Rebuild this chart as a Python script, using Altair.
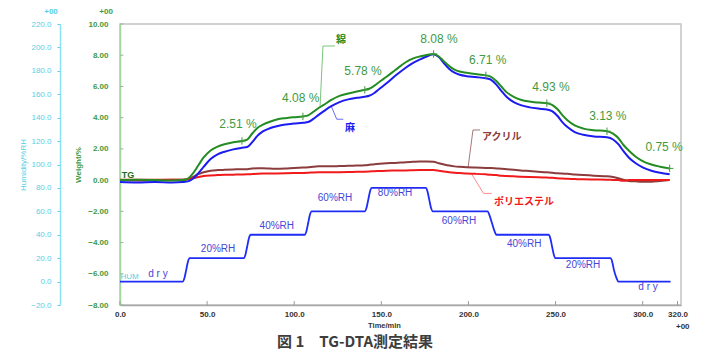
import altair as alt
import pandas as pd

# ---------------- data ----------------
time_min = [0, 10, 20, 30, 36, 39, 42, 45, 48, 52, 56, 60, 65, 70,
            73, 76, 79, 82, 86, 90, 95, 100, 105,
            108, 111, 114, 117, 121, 126, 131, 136, 140.5,
            143, 146, 149, 153, 158, 164, 168, 172, 176, 180,
            183, 186, 189, 192, 195, 199, 204, 210,
            213, 216, 219, 222, 226, 230, 235, 240, 245,
            248, 251, 254, 257, 261, 266, 272, 279.5,
            283, 286, 289, 292, 296, 300, 305, 310, 315.5]

cotton = [0.0, 0.02, 0.0, -0.02, 0.0, 0.1, 0.45, 0.95, 1.45, 1.9, 2.15, 2.3, 2.42, 2.51,
          2.6, 3.0, 3.35, 3.55, 3.74, 3.88, 3.97, 4.03, 4.08,
          4.15, 4.38, 4.62, 4.82, 5.12, 5.4, 5.55, 5.67, 5.78,
          5.85, 6.05, 6.3, 6.62, 7.05, 7.55, 7.78, 7.92, 8.02, 8.08,
          7.92, 7.6, 7.3, 7.08, 6.96, 6.88, 6.8, 6.71,
          6.62, 6.35, 5.98, 5.62, 5.33, 5.15, 5.03, 4.97, 4.93,
          4.82, 4.55, 4.15, 3.82, 3.5, 3.3, 3.2, 3.13,
          2.98, 2.7, 2.25, 1.9, 1.5, 1.22, 1.0, 0.86, 0.75]

hemp = [-0.12, -0.15, -0.12, -0.15, -0.12, -0.08, 0.1, 0.45, 0.85, 1.35, 1.65, 1.82, 1.97, 2.07,
        2.12, 2.45, 2.85, 3.12, 3.32, 3.45, 3.56, 3.62, 3.67,
        3.72, 3.92, 4.18, 4.42, 4.72, 5.0, 5.17, 5.27, 5.34,
        5.4, 5.58, 5.85, 6.2, 6.68, 7.2, 7.5, 7.72, 7.92, 8.06,
        7.88, 7.48, 7.12, 6.88, 6.75, 6.66, 6.6, 6.52,
        6.42, 6.12, 5.7, 5.32, 5.0, 4.8, 4.66, 4.58, 4.53,
        4.42, 4.12, 3.7, 3.38, 3.08, 2.9, 2.8, 2.74,
        2.6, 2.3, 1.85, 1.45, 1.08, 0.82, 0.6, 0.47, 0.38]

acrylic = [0.0, -0.02, 0.0, 0.03, 0.02, 0.05, 0.2, 0.38, 0.5, 0.6, 0.64, 0.66, 0.68, 0.7,
           0.7, 0.74, 0.76, 0.76, 0.74, 0.72, 0.74, 0.78, 0.8,
           0.82, 0.86, 0.88, 0.88, 0.88, 0.9, 0.92, 0.93, 0.95,
           0.98, 1.02, 1.05, 1.08, 1.1, 1.15, 1.17, 1.19, 1.2, 1.18,
           1.08, 1.0, 0.93, 0.88, 0.85, 0.82, 0.8, 0.78,
           0.77, 0.75, 0.73, 0.7, 0.66, 0.62, 0.58, 0.54, 0.5,
           0.47, 0.44, 0.42, 0.4, 0.36, 0.32, 0.28, 0.25,
           0.2, 0.12, 0.02, -0.05, -0.08, -0.1, -0.1, -0.05, 0.0]

polyester = [0.02, 0.03, 0.02, 0.03, 0.03, 0.05, 0.12, 0.2, 0.26, 0.3, 0.32, 0.34, 0.35, 0.36,
             0.37, 0.39, 0.41, 0.42, 0.42, 0.43, 0.44, 0.45, 0.46,
             0.47, 0.49, 0.5, 0.5, 0.5, 0.51, 0.52, 0.53, 0.54,
             0.55, 0.57, 0.58, 0.6, 0.61, 0.62, 0.63, 0.64, 0.65, 0.64,
             0.6, 0.55, 0.5, 0.47, 0.45, 0.42, 0.4, 0.37,
             0.35, 0.32, 0.28, 0.26, 0.24, 0.22, 0.2, 0.18, 0.16,
             0.15, 0.12, 0.1, 0.09, 0.07, 0.05, 0.04, 0.03,
             0.01, 0.0, -0.04, 0.0, 0.01, 0.0, 0.0, 0.0, 0.0]

hum_t = [0, 36, 37, 38, 39, 40, 71, 72, 73, 74, 75, 106, 107, 108, 109, 110,
         140.5, 141.5, 142.5, 143.5, 144.5, 175.5, 176.5, 177.5, 178.5, 179.5,
         211, 212, 213.5, 215, 216, 246, 247, 248, 249, 250,
         281.5, 282.5, 283.5, 285, 286, 316]
hum_rh = [0, 0, 3, 10, 17, 20, 20, 23, 30, 37, 40, 40, 43, 50, 57, 60,
          60, 63, 70, 77, 80, 80, 77, 70, 63, 60,
          60, 57, 50, 43, 40, 40, 37, 30, 23, 20,
          20, 17, 10, 3, 0, 0]

# step-end markers of cotton and their labels
marker_t = [70, 105, 140.5, 180, 210, 245, 279.5, 315.5]
marker_w = [2.51, 4.08, 5.78, 8.08, 6.71, 4.93, 3.13, 0.75]
label_t = [67.7, 103.7, 139.5, 183.1, 211.1, 247.4, 280.0, 312.3]
label_w = [3.59, 5.26, 6.99, 9.04, 7.69, 5.98, 4.11, 2.12]

# humidity step labels
rh_text = ["d r y", "20%RH", "40%RH", "60%RH", "80%RH", "60%RH", "40%RH", "20%RH", "d r y"]
rh_text_t = [21.8, 56.3, 90.0, 123.4, 157.9, 194.6, 232.0, 265.8, 303.1]
rh_text_h = [6.6, 27.9, 47.6, 71.5, 75.7, 52.1, 32.2, 14.3, -4.3]

# series names and leader lines (time, weight)
series_names = ["綿", "麻", "アクリル", "ポリエステル"]
series_colors = ["#238c23", "#1c1cf0", "#8b3c3c", "#f01a1a"]
leader_colors = ["#7cc47c", "#6a6aff", "#a57a7a", "#ff8c8c"]
leader_t = [[114.8, 116.5, 123.4], [121.4, 124.4, 128.2], [199.8, 202.6, 206.7], [201.9, 208.6, 213.4]]
leader_w = [[4.65, 8.59, 8.59], [4.7, 3.9, 3.9], [0.82, 3.21, 3.21], [0.38, -0.85, -0.85]]
name_t = [124.0, 129.2, 207.8, 214.7]
name_w = [8.97, 3.36, 2.74, -1.38]

x_ticks = [0, 50, 100, 150, 200, 250, 300, 320]
w_ticks = [-8, -6, -4, -2, 0, 2, 4, 6, 8, 10]
h_ticks = [-20, 0, 20, 40, 60, 80, 100, 120, 140, 160, 180, 200, 220]

X_DOM = [0, 322]
W_DOM = [-8, 10]
H_DOM = [-20, 220]

GREEN_LBL = "#3f9a3f"
CYAN = "#55cfe6"

# ---------------- axes ----------------
xs = alt.Scale(domain=X_DOM, nice=False, zero=False)
ws = alt.Scale(domain=W_DOM, nice=False, zero=False)
hs = alt.Scale(domain=H_DOM, nice=False, zero=False)

x_axis = alt.Axis(values=x_ticks, format=".1f", labelFont="Liberation Sans", labelFontSize=8,
                  labelFontWeight="bold", labelColor="#333333", labelFlush=False, labelPadding=5,
                  labelOverlap=False,
                  ticks=False, grid=False, domainColor="#a8a8a8", domainWidth=1.5,
                  title="Time/min", titleFont="Liberation Sans", titleFontSize=7.5,
                  titleFontWeight="bold", titleColor="#333333", titleX=264, titleY=20,
                  titleAlign="center", titleBaseline="middle")

w_axis = alt.Axis(values=w_ticks, format=".2f", labelFont="Liberation Sans", labelFontSize=8,
                  labelFontWeight="bold", labelColor=GREEN_LBL, labelPadding=12,
                  labelOverlap=False,
                  ticks=False, grid=False, domainColor="#a6d6a0", domainWidth=1.5,
                  title="Weight/%", titleFont="Liberation Sans", titleFontSize=8,
                  titleFontWeight="bold", titleColor=GREEN_LBL, titlePadding=5)

h_axis = alt.Axis(values=h_ticks, format=".1f", orient="left", offset=60,
                  labelFont="Liberation Sans", labelFontSize=8, labelColor=CYAN,
                  labelPadding=6, labelOverlap=False, ticks=True, tickSize=3, tickColor=CYAN,
                  grid=False, domainColor="#8be3f2", domainWidth=1.5,
                  title="Humidity/%RH", titleFont="Liberation Sans", titleFontSize=8,
                  titleColor=CYAN, titleFontWeight="normal", titlePadding=3)


def X(field="t"):
    return alt.X(f"{field}:Q", scale=xs, axis=x_axis)


def W(field="w"):
    return alt.Y(f"{field}:Q", scale=ws, axis=w_axis)


def H(field="h"):
    return alt.Y(f"{field}:Q", scale=hs, axis=h_axis)


# ---------------- weight group ----------------
curves = {
    "アクリル": acrylic,
    "ポリエステル": polyester,
    "麻": hemp,
    "綿": cotton,
}
curve_color = dict(zip(series_names, series_colors))

layers = []

# inward ticks
xt_df = pd.DataFrame({"t": x_ticks, "w0": [W_DOM[0]] * len(x_ticks), "w1": [W_DOM[0] + 0.25] * len(x_ticks)})
layers.append(alt.Chart(xt_df).mark_rule(color="#9a9a9a", strokeWidth=1).encode(
    x=X("t"), y=W("w0"), y2="w1"))
wt_df = pd.DataFrame({"w": w_ticks, "t0": [0] * len(w_ticks), "t1": [2] * len(w_ticks)})
layers.append(alt.Chart(wt_df).mark_rule(color="#8fbf8f", strokeWidth=1).encode(
    x=X("t0"), x2="t1", y=W("w")))

# leader lines
for i, name in enumerate(series_names):
    ldf = pd.DataFrame({"t": leader_t[i], "w": leader_w[i], "o": [0, 1, 2]})
    layers.append(alt.Chart(ldf).mark_line(color=leader_colors[i], strokeWidth=1).encode(
        x=X(), y=W(), order="o:Q"))

# curves
for name, vals in curves.items():
    cdf = pd.DataFrame({"t": time_min, "w": vals})
    layers.append(alt.Chart(cdf).mark_line(color=curve_color[name], strokeWidth=2,
                                           interpolate="monotone").encode(x=X(), y=W()))

# markers and percent labels
mdf = pd.DataFrame({"t": marker_t, "w": marker_w})
layers.append(alt.Chart(mdf).mark_point(shape="M-1,0L1,0M0,-1L0,1", filled=False, size=55,
                                        strokeWidth=1, color="#3f9a3f", opacity=1).encode(
    x=X(), y=W()))
pdf = pd.DataFrame({"t": label_t, "w": label_w,
                    "label": [f"{v:.2f} %" for v in marker_w]})
layers.append(alt.Chart(pdf).mark_text(font="Liberation Sans", fontSize=12, color="#3f9a3f",
                                       align="center", baseline="middle").encode(
    x=X(), y=W(), text="label:N"))

# series names
ndf = pd.DataFrame({"t": name_t, "w": name_w, "name": series_names, "c": series_colors})
layers.append(alt.Chart(ndf).mark_text(font="Noto Sans CJK JP", fontSize=10, fontWeight="bold",
                                       align="left", baseline="middle").encode(
    x=X(), y=W(), text="name:N", color=alt.Color("c:N", scale=None)))

# small captions: TG, +00, figure caption
misc_text = ["TG", "+00", "+00", "+00", "図 1　TG-DTA測定結果"]
misc_t = [1.0, -39.6, -8.0, 323.0, 134.9]
misc_w = [0.32, 10.77, 10.77, -9.39, -10.37]
misc_color = ["#1a6e1a", CYAN, GREEN_LBL, "#333333", "#3d3d3d"]
misc_size = [9, 8, 8, 8, 15]
misc_font = ["Liberation Sans", "Liberation Sans", "Liberation Sans", "Liberation Sans", "Noto Sans CJK JP"]
for i in range(len(misc_text)):
    d = pd.DataFrame({"t": [misc_t[i]], "w": [misc_w[i]], "s": [misc_text[i]]})
    layers.append(alt.Chart(d).mark_text(font=misc_font[i], fontSize=misc_size[i],
                                         fontWeight="bold", color=misc_color[i],
                                         align="left" if i == 0 else "center",
                                         baseline="middle").encode(
        x=X(), y=W(), text="s:N"))

weight_group = alt.layer(*layers)

# ---------------- humidity group ----------------
hdf = pd.DataFrame({"t": hum_t, "h": hum_rh})
hum_line = alt.Chart(hdf).mark_line(color="#1f2cf5", strokeWidth=1.8, interpolate="monotone").encode(
    x=X(), y=H())
rdf = pd.DataFrame({"t": rh_text_t, "h": rh_text_h, "s": rh_text})
hum_text = alt.Chart(rdf).mark_text(font="Liberation Sans", fontSize=10, color="#4646d6",
                                    align="center", baseline="middle").encode(
    x=X(), y=H(), text="s:N")
hum_lbl = alt.Chart(pd.DataFrame({"t": [0.3], "h": [4.0], "s": ["HUM"]})).mark_text(
    font="Liberation Sans", fontSize=8, color=CYAN, align="left", baseline="middle").encode(
    x=X(), y=H(), text="s:N")
hum_group = alt.layer(hum_line, hum_text, hum_lbl)

chart = alt.layer(weight_group, hum_group).resolve_scale(y="independent").properties(
    width=561, height=281,
    padding={"left": 120, "top": 24, "right": 45, "bottom": 51},
    autosize=alt.AutoSizeParams(type="none"),
    background="white",
).configure_view(stroke="#c4c4c4", strokeWidth=1.5)

chart.save("out.html", embed_options={"renderer": "svg", "actions": False})
